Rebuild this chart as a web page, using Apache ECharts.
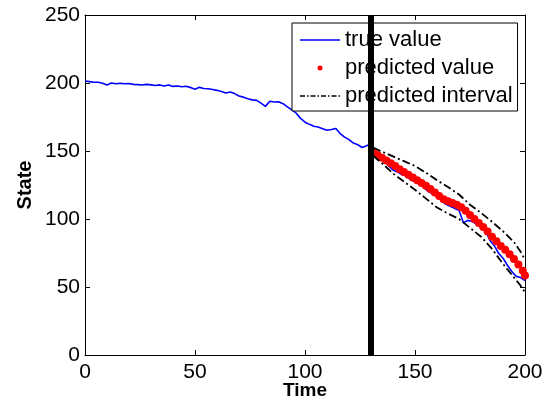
<!DOCTYPE html>
<html>
<head>
<meta charset="utf-8">
<title>State prediction</title>
<script src="https://cdn.jsdelivr.net/npm/echarts@6/dist/echarts.min.js"></script>
<style>
  html, body { margin: 0; padding: 0; background: #fff; }
  #chart { width: 544px; height: 407px; }
</style>
</head>
<body>
<div id="chart"></div>
<script>
// true value, sampled every 2 time steps
var trueTime = [0,2,4,6,8,10,12,14,16,18,20,22,24,26,28,30,32,34,36,38,40,42,44,46,48,50,
  52,54,56,58,60,62,64,66,68,70,72,74,76,78,80,82,84,86,88,90,92,94,96,98,100,
  102,104,106,108,110,112,114,116,118,120,122,124,126,128,130,132,134,136,138,140,
  142,144,146,148,150,152,154,156,158,160,162,164,166,168,170,172,174,176,178,180,
  182,184,186,188,190,192,194,196,198,200];
var trueValue = [201.5,201,200.5,200.5,199.8,198.6,200,199.5,199.8,199.4,199.6,199,198.8,198.5,199,198.6,198.2,198.6,197.8,198.6,197.5,197.8,197.2,197.6,196.6,195.4,
  196.8,196,195.8,195.2,194.6,193.8,192.6,193.4,192.2,190.4,189.6,188.4,187.6,187.2,185.2,182.8,186.6,186,186.2,184.8,182.4,180.2,177.8,174,171.2,
  169.6,168.2,167.6,166.4,165.2,165.8,166.6,162.8,160.2,158.4,155.8,154.6,152.6,153.8,155.4,149.5,145.5,142.8,139.2,136,
  134.6,132.6,131.8,128.8,127.4,125.6,123,120.4,118.6,116.4,113.8,110.8,109.4,107.8,106.4,97.2,99,98.2,96,93.6,
  91.8,84.4,80.6,74.8,71.2,66,61.4,57.8,57,54.8];

// predicted value
var predTime = [131,133,135,137,139,141,143,145,147,149,151,153,155,157,159,161,163,165,167,169,
  171,173,175,177,179,181,183,185,187,189,191,193,195,197,199,200];
var predValue = [149.5,147,145,143,141,139,136.5,134.5,132.5,130.5,128.5,126.5,124.5,122,119.5,117,114.5,113,111.8,110.5,
  108.6,106,103,100,97,94.2,90.8,87,83.6,80.2,77.4,74,70.5,66.5,62,58.5];

// predicted interval
var intTime = [131,135,140,145,150,155,160,165,170,175,180,185,190,195,198,200];
var intUpper = [152.5,149.5,146,142.5,139,134,128.5,123.5,118,110.5,104.5,98,91,83,76,70];
var intLower = [146.5,141,133.5,127.5,121.5,115,108.5,104,100,93.5,87,78,67,57,51,46];

var splitTime = 130;

function pairs(xs, ys) {
  var out = [];
  for (var i = 0; i < xs.length; i++) out.push([xs[i], ys[i]]);
  return out;
}

var font = 'Liberation Sans, Arial, sans-serif';
var dashDot = [8, 3, 2, 3];
// legend icons drawn as thin filled bars (no marker in the middle)
var solidIcon = 'path://M0,0H40V1.6H0Z';
var dashDotIcon = 'path://M0,0H5V1.6H0Z M7,0H8.5V1.6H7Z M10.5,0H15.5V1.6H10.5Z M17.5,0H19V1.6H17.5Z ' +
  'M21,0H26V1.6H21Z M28,0H29.5V1.6H28Z M31.5,0H36.5V1.6H31.5Z M38.5,0H40V1.6H38.5Z';

var myChart = echarts.init(document.getElementById('chart'), null, { renderer: 'canvas' });
var option = {
  animation: false,
  grid: { left: 85, right: 19, top: 15, bottom: 52, containLabel: false, outerBoundsMode: 'none' },
  legend: {
    left: 292, top: 23,
    orient: 'vertical',
    backgroundColor: '#fff',
    borderColor: '#000', borderWidth: 1, borderRadius: 0,
    padding: [6, 5, 4, 8],
    itemWidth: 40, itemHeight: 5, itemGap: 6,
    textStyle: { fontFamily: font, fontSize: 22, color: '#000' },
    data: [
      { name: 'true value', icon: solidIcon },
      { name: 'predicted value', icon: 'circle' },
      { name: 'predicted interval', icon: dashDotIcon }
    ]
  },
  xAxis: [{
    type: 'value', min: 0, max: 200, interval: 50,
    name: 'Time', nameLocation: 'middle', nameGap: 26, nameMoveOverlap: false,
    nameTextStyle: { fontFamily: font, fontSize: 19, fontWeight: 'bold', color: '#000' },
    axisLine: { onZero: false, lineStyle: { color: '#000', width: 1 } },
    axisTick: { inside: true, length: 5, lineStyle: { color: '#000' } },
    axisLabel: { fontFamily: font, fontSize: 21, color: '#000', margin: 7 },
    splitLine: { show: false }
  }, {
    type: 'value', min: 0, max: 200, interval: 50, position: 'top',
    axisLine: { onZero: false, lineStyle: { color: '#000', width: 1 } },
    axisTick: { inside: true, length: 5, lineStyle: { color: '#000' } },
    axisLabel: { show: false },
    splitLine: { show: false }
  }],
  yAxis: [{
    type: 'value', min: 0, max: 250, interval: 50,
    name: 'State', nameLocation: 'middle', nameGap: 50, nameMoveOverlap: false,
    nameTextStyle: { fontFamily: font, fontSize: 20, fontWeight: 'bold', color: '#000' },
    axisLine: { show: true, onZero: false, lineStyle: { color: '#000', width: 1 } },
    axisTick: { show: true, inside: true, length: 5, lineStyle: { color: '#000' } },
    axisLabel: { fontFamily: font, fontSize: 21, color: '#000', margin: 5 },
    splitLine: { show: false }
  }, {
    type: 'value', min: 0, max: 250, interval: 50, position: 'right',
    axisLine: { show: true, onZero: false, lineStyle: { color: '#000', width: 1 } },
    axisTick: { show: true, inside: true, length: 5, lineStyle: { color: '#000' } },
    axisLabel: { show: false },
    splitLine: { show: false }
  }],
  series: [{
    name: 'true value', type: 'line',
    data: pairs(trueTime, trueValue),
    symbol: 'none',
    lineStyle: { color: '#0000ff', width: 1.6 },
    itemStyle: { color: '#0000ff' },
    markLine: {
      silent: true, symbol: 'none',
      label: { show: false },
      lineStyle: { color: '#000', width: 6, type: 'solid' },
      data: [{ xAxis: splitTime }]
    },
    z: 2
  }, {
    name: 'predicted value', type: 'scatter',
    data: pairs(predTime, predValue),
    symbol: 'circle', symbolSize: 8,
    itemStyle: { color: '#ff0000', opacity: 1 },
    z: 3
  }, {
    name: 'predicted interval', type: 'line',
    data: pairs(intTime, intUpper),
    symbol: 'none',
    lineStyle: { color: '#000', width: 1.8, type: dashDot },
    itemStyle: { color: '#000' },
    z: 4
  }, {
    name: 'predicted interval', type: 'line',
    data: pairs(intTime, intLower),
    symbol: 'none',
    lineStyle: { color: '#000', width: 1.8, type: dashDot },
    itemStyle: { color: '#000' },
    z: 4
  }]
};
myChart.setOption(option);
</script>
</body>
</html>
